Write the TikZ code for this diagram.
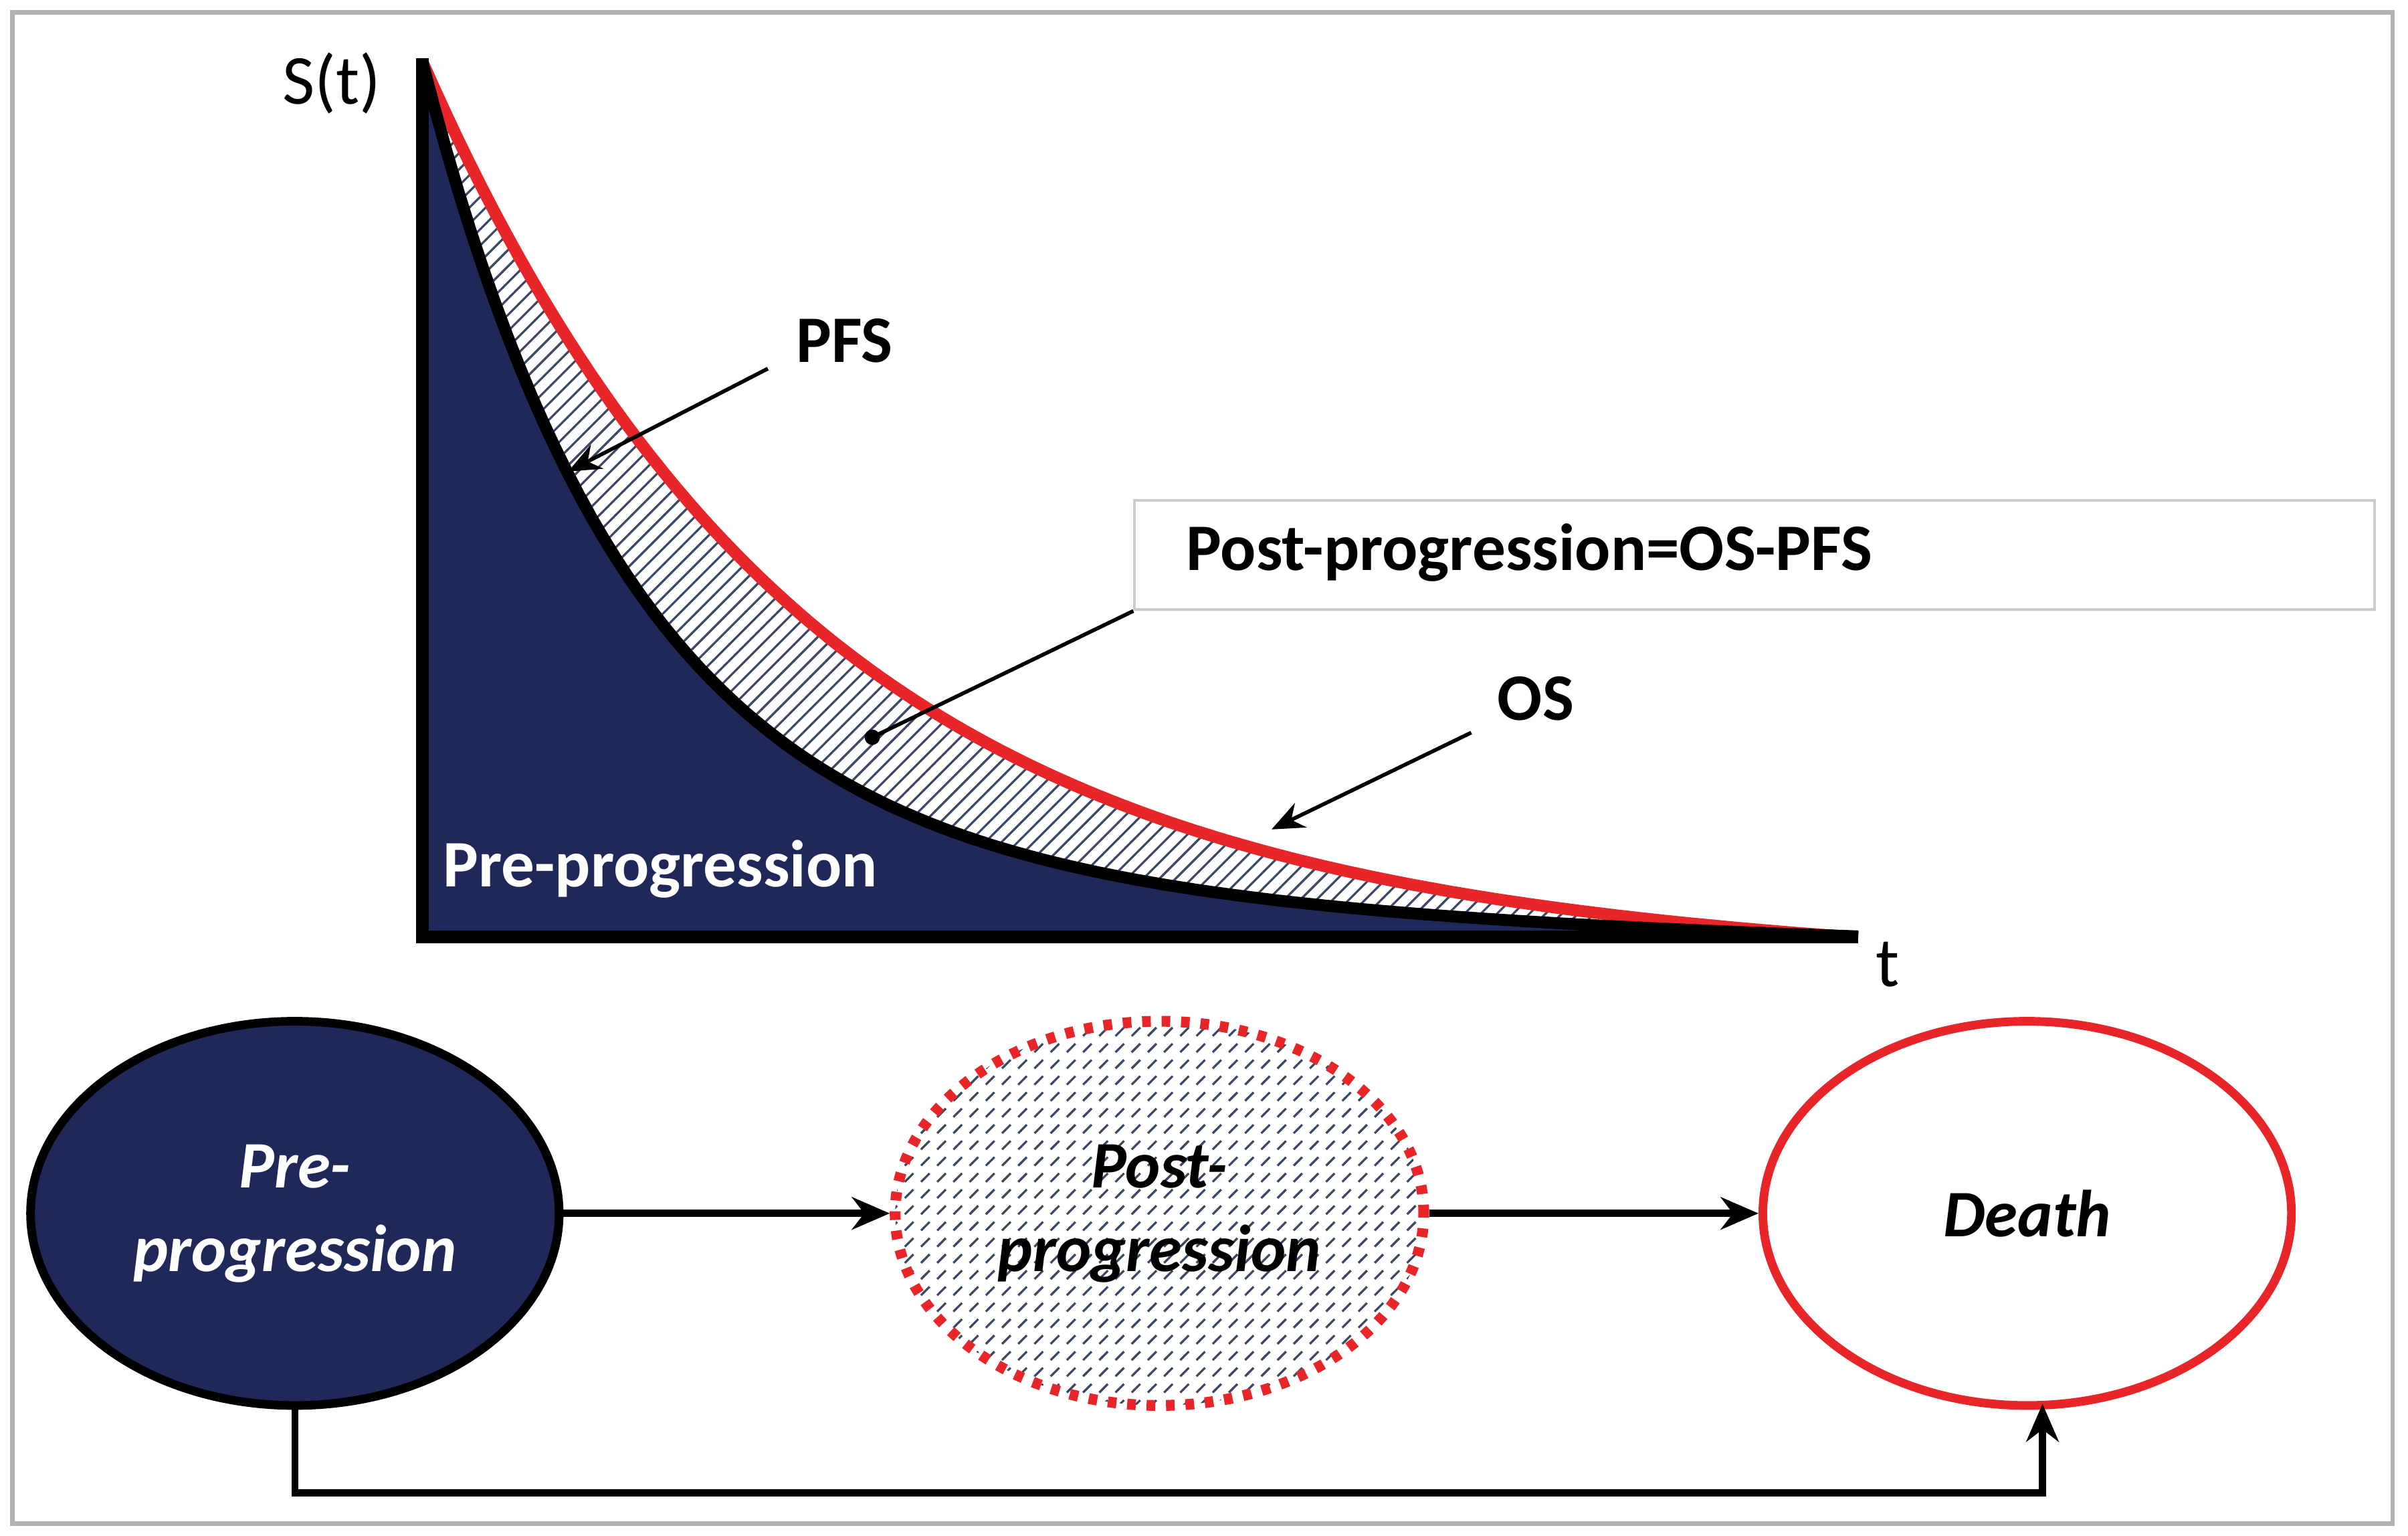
\documentclass[tikz,border=0pt]{standalone}
\usepackage{fontspec}
\setmainfont{Carlito}
\usetikzlibrary{patterns,arrows.meta,shapes.geometric}
\definecolor{navy}{HTML}{1F2858}
\definecolor{osred}{HTML}{E8262A}
\definecolor{hatchc}{HTML}{3A4A66}
\tikzset{
  lab/.style={font=\fontsize{12.3}{15}\selectfont\bfseries},
  ell/.style={ellipse,minimum width=3.44cm,minimum height=2.5cm,line width=1.6pt,font=\fontsize{12.3}{15.5}\selectfont\bfseries\itshape,align=center,inner sep=0pt},
  arr/.style={-{Stealth[length=7pt,width=6pt]},line width=1.3pt},
  thin arr/.style={-{Stealth[length=6pt,width=5pt]},line width=0.7pt}
}
\begin{document}
\begin{tikzpicture}[x=0.01cm,y=0.01cm]
\useasboundingbox (0,0) rectangle (1568,1000);
\draw[gray!60,line width=0.8pt] (8,8) rectangle (1558,992);
% hatched OS region
\fill[pattern=north east lines,pattern color=hatchc] (275,390) -- plot[domain=275:1210,samples=120] (\x,{390+570*exp(-(\x-275)/251)-14*(\x-275)/935}) -- cycle;
% navy PFS region
\fill[navy] (275,390) -- plot[domain=275:1210,samples=120] (\x,{390+480*exp(-(\x-275)/130)+90*exp(-(\x-275)/400)-90*exp(-935/400)*(\x-275)/935}) -- cycle;
\draw[osred,line width=2.2pt] plot[domain=275:1210,samples=120] (\x,{390+570*exp(-(\x-275)/251)-14*(\x-275)/935});
\draw[black,line width=2.2pt] plot[domain=275:1210,samples=120] (\x,{390+480*exp(-(\x-275)/130)+90*exp(-(\x-275)/400)-90*exp(-935/400)*(\x-275)/935});
% axes
\draw[line width=2.4pt] (275,962) -- (275,390) -- (1210,390);
\node[font=\fontsize{13}{16}\selectfont] (st) at (216,946) {S(t)};
\node[font=\fontsize{13}{16}\selectfont] (t) at (1229,372) {t};
\node[lab,text=white] (pre) at (430,434) {Pre-progression};
% labels
\node[lab] (pfs) at (550,778) {PFS};
\coordinate (pfsA) at (500,760);
\coordinate (pfsB) at (370,693);
\draw[thin arr] (pfsA) -- (pfsB);
\node[lab] (os) at (1000,545) {OS};
\coordinate (osA) at (958,523);
\coordinate (osB) at (828,460);
\draw[thin arr] (osA) -- (osB);
\node[draw=gray!40,fill=white,minimum width=8.07cm,minimum height=0.71cm,anchor=north west,line width=0.5pt] (box) at (738,675) {};
\node[lab,anchor=west] (boxt) at (760,640) {Post-progression=OS-PFS};
\coordinate (dot) at (568,520);
\draw[line width=0.7pt] (box.south west) -- (dot);
\fill (dot) circle (5);
% state ellipses
\node[ell,fill=navy,draw=black,text=white] (e1) at (192,210) {Pre-\\progression};
\node[ell,pattern=north east lines,pattern color=hatchc,draw=osred,dotted,line width=2pt] (e2) at (755,210) {};
\node[font=\fontsize{12.3}{15.5}\selectfont\bfseries\itshape,align=center,text=black] (e2t) at (755,210) {Post-\\progression};
\node[ell,draw=osred,text=black] (e3) at (1320,210) {Death};
\draw[arr] (e1.east) -- (e2.west);
\draw[arr] (e2.east) -- (e3.west);
\draw[arr] (e1.south) -- (192,28) -- (1330,28) -- (1330,86);
\end{tikzpicture}
\end{document}
